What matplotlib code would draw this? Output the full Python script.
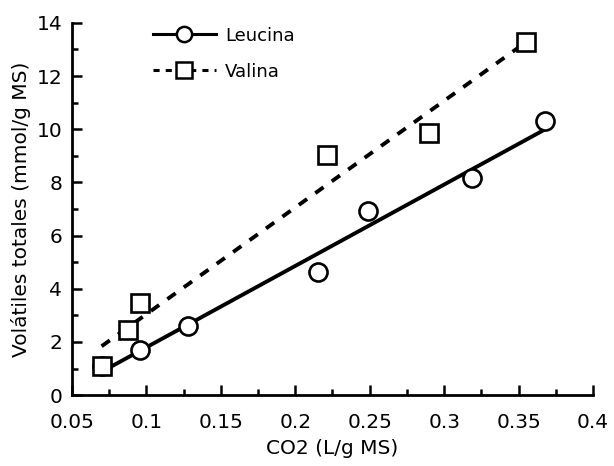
import numpy as np
import matplotlib
matplotlib.use("Agg")
import matplotlib.pyplot as plt
from matplotlib.ticker import MultipleLocator, FuncFormatter

# values
leu_x = [0.070, 0.096, 0.128, 0.215, 0.249, 0.319, 0.368]
leu_y = [1.10, 1.69, 2.60, 4.62, 6.92, 8.16, 10.30]
val_x = [0.070, 0.088, 0.096, 0.221, 0.290, 0.355]
val_y = [1.09, 2.44, 3.46, 9.02, 9.85, 13.27]

plt.rcParams["font.family"] = ["DejaVu Sans"]

fig = plt.figure(figsize=(6.14, 4.66), dpi=100)
ax = fig.add_axes([0.117, 0.152, 0.849, 0.799])

# regression lines
for xs, ys, ls in ((leu_x, leu_y, "-"), (val_x, val_y, (0, (2.6, 2.6)))):
    k, b = np.polyfit(xs, ys, 1)
    xx = np.array([min(xs), max(xs)])
    ax.plot(xx, k * xx + b, color="k", lw=2.8, ls=ls, zorder=2)

ax.plot(leu_x, leu_y, ls="none", marker="o", ms=13, mfc="white", mec="k", mew=1.9, zorder=3)
ax.plot(val_x, val_y, ls="none", marker="s", ms=13.5, mfc="white", mec="k", mew=1.9, zorder=3)

# legend handles (line + marker)
h1, = ax.plot([], [], color="k", lw=2.2, ls="-", marker="o", ms=11, mfc="white", mec="k", mew=1.8)
h2, = ax.plot([], [], color="k", lw=2.2, ls=(0, (2.0, 2.0)), marker="s", ms=11, mfc="white", mec="k", mew=1.8)
ax.legend([h1, h2], ["Leucina", "Valina"], loc="upper left", bbox_to_anchor=(0.155, 0.99),
          borderaxespad=0, borderpad=0, frameon=False, handlelength=3.5, handletextpad=0.5,
          numpoints=1, fontsize=13, labelspacing=1.0)

ax.set_xlim(0.05, 0.4)
ax.set_ylim(0, 14)
ax.xaxis.set_major_locator(MultipleLocator(0.05))
ax.xaxis.set_minor_locator(MultipleLocator(0.025))
ax.yaxis.set_major_locator(MultipleLocator(2))
ax.yaxis.set_minor_locator(MultipleLocator(1))
ax.xaxis.set_major_formatter(FuncFormatter(lambda v, p: f"{v:g}"))

for s in ("top", "right"):
    ax.spines[s].set_visible(False)
for s in ("left", "bottom"):
    ax.spines[s].set_linewidth(2.0)
ax.tick_params(which="major", direction="in", length=7, width=1.8, labelsize=14.5)
ax.tick_params(axis="x", which="major", pad=13)
ax.tick_params(axis="y", which="major", pad=7)
ax.tick_params(which="minor", direction="in", length=4, width=1.8)

ax.set_xlabel("CO2 (L/g MS)", fontsize=14.5, labelpad=5)
ax.set_ylabel("Volátiles totales (mmol/g MS)", fontsize=14.5, labelpad=4)

fig.savefig("out.png", dpi=100)
